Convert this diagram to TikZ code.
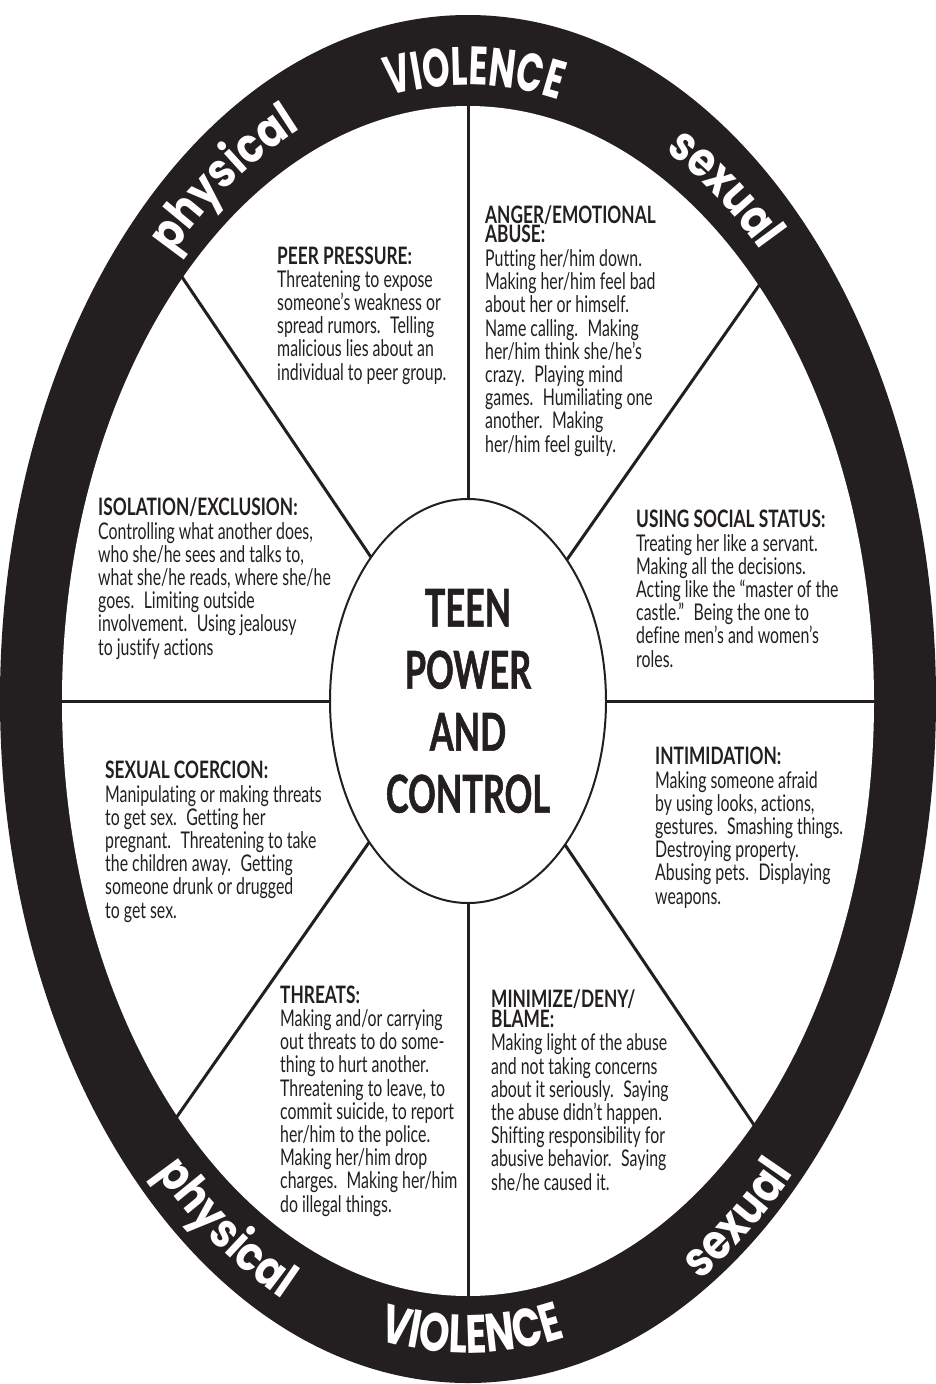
\documentclass[tikz,border=0pt]{standalone}
\usepackage{fontspec}
\setmainfont{Lato}
\newfontfamily\bodyfont[FakeStretch=0.69,Ligatures=CommonOff]{Lato}
\newfontfamily\headfont[FakeStretch=0.72]{Lato}
\newfontfamily\hubfont[FakeStretch=0.66,FakeBold=1]{Lato}
\newfontfamily\ringfont[FakeStretch=0.85]{Poppins}
\newfontfamily\violfont[FakeStretch=0.72]{Poppins}
\newfontfamily\violtopfont[FakeStretch=0.65]{Poppins}
\usetikzlibrary{shapes.geometric,decorations.text}

\definecolor{ringblack}{RGB}{35,31,32}
\newcommand\head[1]{{\headfont\bfseries\fontsize{24}{20}\selectfont #1}}

\tikzset{
  ring/.style={ellipse, fill=ringblack, inner sep=0pt, outer sep=0pt,
    minimum width=936, minimum height=1368},
  rim/.style={ellipse, fill=white, inner sep=0pt, outer sep=0pt,
    minimum width=812, minimum height=1190},
  hub/.style={ellipse, draw=ringblack, line width=2pt, fill=white, inner sep=0pt,
    outer sep=0pt, minimum width=276, minimum height=404, align=center,
    font=\hubfont\bfseries\fontsize{52}{62}\selectfont},
  spoke/.style={draw=ringblack, line width=3pt, shorten >=-2pt},
  blurb/.style={anchor=base west, align=left, inner sep=0pt,
    text=ringblack, font=\bodyfont\fontsize{23}{23.2}\selectfont},
  ringtext/.style={decorate, decoration={text along path, text align=center,
    text color=white, text={#1}}},
}

\begin{document}
\begin{tikzpicture}[x=1pt,y=-1pt]
  \useasboundingbox (0,0) rectangle (936,1384);
  \coordinate (ctr) at (468,701);

  % the wheel
  \node[ring] (ring) at (468,699) {};
  \node[rim] (rim) at (ctr) {};
  \node[hub, text=ringblack] (hub) at (ctr) {TEEN\\POWER\\AND\\CONTROL};

  % spokes
  \draw[spoke] (hub.north) -- (rim.north);
  \draw[spoke] (hub.south) -- (rim.south);
  \draw[spoke] (hub.west) -- (rim.west);
  \draw[spoke] (hub.east) -- (rim.east);
  \draw[spoke] (hub.55.7) -- (rim.55.7);
  \draw[spoke] (hub.124.3) -- (rim.124.3);
  \draw[spoke] (hub.235.7) -- (rim.235.7);
  \draw[spoke] (hub.304.3) -- (rim.304.3);

  % words on the ring, top half
  \path[ringtext={|\violtopfont\bfseries\fontsize{54}{54}\selectfont|VIOLENCE}]
    (ctr) ++(124.3:416pt and 616pt)
    arc[start angle=124.3, end angle=54.3, x radius=416pt, y radius=616pt];
  \path[ringtext={|\ringfont\bfseries\fontsize{48}{48}\selectfont|physical}]
    (ctr) ++(155.5:425pt and 622pt)
    arc[start angle=155.5, end angle=85.5, x radius=425pt, y radius=622pt];
  \path[ringtext={|\ringfont\bfseries\fontsize{48}{48}\selectfont|sexual}]
    (ctr) ++(92.7:425pt and 622pt)
    arc[start angle=92.7, end angle=22.7, x radius=425pt, y radius=622pt];

  % words on the ring, bottom half
  \path[ringtext={|\violfont\bfseries\fontsize{54}{54}\selectfont|VIOLENCE}]
    (ctr) ++(235.5:445pt and 652pt)
    arc[start angle=235.5, end angle=305.5, x radius=445pt, y radius=652pt];
  \path[ringtext={|\ringfont\bfseries\fontsize{48}{48}\selectfont|physical}]
    (ctr) ++(203.9:448pt and 657pt)
    arc[start angle=203.9, end angle=273.9, x radius=448pt, y radius=657pt];
  \path[ringtext={|\ringfont\bfseries\fontsize{49}{49}\selectfont|sexual}]
    (ctr) ++(269.5:458pt and 672pt)
    arc[start angle=269.5, end angle=339.5, x radius=458pt, y radius=672pt];

  % the eight segments (placed at the baseline of their last line)
  \node[blurb] (peer) at (277,380) {\head{PEER PRESSURE:}\\
    Threatening to expose\\
    someone’s weakness or\\
    spread rumors.~ Telling\\
    malicious lies about an\\
    individual to peer group.};
  \node[blurb] (anger) at (485,452) {\head{ANGER/EMOTIONAL}\\[-3.5pt]
    \head{ABUSE:}\\[0.5pt]
    Putting her/him down.\\
    Making her/him feel bad\\
    about her or himself.\\
    Name calling.~ Making\\
    her/him think she/he’s\\
    crazy.~ Playing mind\\
    games.~ Humiliating one\\
    another.~ Making\\
    her/him feel guilty.};
  \node[blurb] (isolation) at (98,655) {\head{ISOLATION/EXCLUSION:}\\
    Controlling what another does,\\
    who she/he sees and talks to,\\
    what she/he reads, where she/he\\
    goes.~ Limiting outside\\
    involvement.~ Using jealousy\\
    to justify actions};
  \node[blurb] (status) at (636,667) {\head{USING SOCIAL STATUS:}\\
    Treating her like a servant.\\
    Making all the decisions.\\
    Acting like the “master of the\\
    castle.”~ Being the one to\\
    define men’s and women’s\\
    roles.};
  \node[blurb] (coercion) at (105,918) {\head{SEXUAL COERCION:}\\
    Manipulating or making threats\\
    to get sex.~ Getting her\\
    pregnant.~ Threatening to take\\
    the children away.~ Getting\\
    someone drunk or drugged\\
    to get sex.};
  \node[blurb] (intimidation) at (655,904) {\head{INTIMIDATION:}\\
    Making someone afraid\\
    by using looks, actions,\\
    gestures.~ Smashing things.\\
    Destroying property.\\
    Abusing pets.~ Displaying\\
    weapons.};
  \node[blurb] (threats) at (280,1212) {\head{THREATS:}\\
    Making and/or carrying\\
    out threats to do some-\\
    thing to hurt another.\\
    Threatening to leave, to\\
    commit suicide, to report\\
    her/him to the police.\\
    Making her/him drop\\
    charges.~ Making her/him\\
    do illegal things.};
  \node[blurb] (minimize) at (491,1190) {\head{MINIMIZE/DENY/}\\[-3.5pt]
    \head{BLAME:}\\[0.5pt]
    Making light of the abuse\\
    and not taking concerns\\
    about it seriously.~ Saying\\
    the abuse didn’t happen.\\
    Shifting responsibility for\\
    abusive behavior.~ Saying\\
    she/he caused it.};
\end{tikzpicture}
\end{document}
